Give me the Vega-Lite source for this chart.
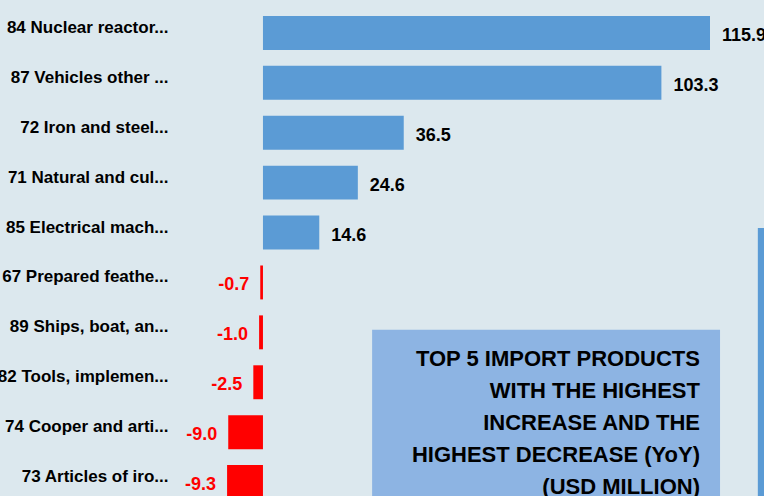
{
  "$schema": "https://vega.github.io/schema/vega-lite/v6.json",
  "width": 594,
  "height": 515,
  "autosize": {"type": "none"},
  "padding": {"left": 170, "top": 0, "right": 0, "bottom": 0},
  "background": "#dce8ee",
  "config": {"view": {"stroke": null}},
  "datasets": {
    "bars": [
      {"product": "84 Nuclear reactor...", "value": 115.9, "label": "115.9", "dir": "up"},
      {"product": "87 Vehicles  other ...", "value": 103.3, "label": "103.3", "dir": "up"},
      {"product": "72 Iron and steel...", "value": 36.5, "label": "36.5", "dir": "up"},
      {"product": "71 Natural and cul...", "value": 24.6, "label": "24.6", "dir": "up"},
      {"product": "85 Electrical mach...", "value": 14.6, "label": "14.6", "dir": "up"},
      {"product": "67 Prepared feathe...", "value": -0.7, "label": "-0.7", "dir": "down"},
      {"product": "89 Ships, boat, an...", "value": -1.0, "label": "-1.0", "dir": "down"},
      {"product": "82 Tools, implemen...", "value": -2.5, "label": "-2.5", "dir": "down"},
      {"product": "74 Cooper and arti...", "value": -9.0, "label": "-9.0", "dir": "down"},
      {"product": "73 Articles of iro...", "value": -9.3, "label": "-9.3", "dir": "down"}
    ],
    "panels": [
      {"name": "box", "x1": 28.3, "x2": 118.5, "y1": 6.61, "y2": 10.4, "fill": "box"},
      {"name": "side", "x1": 128.3, "x2": 140, "y1": 4.57, "y2": 10.4, "fill": "side"}
    ],
    "title": [
      {"text": "TOP 5 IMPORT PRODUCTS\nWITH THE HIGHEST\nINCREASE AND THE\nHIGHEST DECREASE (YoY)\n(USD MILLION)", "x": 113.3, "y": 7.33}
    ]
  },
  "layer": [
    {
      "data": {"name": "bars"},
      "encoding": {
        "y": {
          "field": "product", "type": "nominal", "sort": null,
          "scale": {"paddingInner": 0.32, "paddingOuter": 0.32},
          "axis": {"title": null, "ticks": false, "domain": false, "labelPadding": 2, "labelOffset": -5,
                   "labelFont": "Liberation Sans", "labelFontWeight": "bold", "labelFontSize": 17,
                   "labelColor": "#000000", "labelLimit": 0}
        },
        "x": {
          "field": "value", "type": "quantitative",
          "scale": {"domain": [-24.1, 129.9], "nice": false, "zero": false},
          "axis": null
        }
      },
      "layer": [
        {
          "mark": {"type": "bar"},
          "encoding": {
            "color": {
              "field": "dir", "type": "nominal",
              "scale": {"domain": ["up", "down"], "range": ["#5b9bd5", "#ff0000"]},
              "legend": null
            }
          }
        },
        {
          "transform": [{"filter": "datum.value > 0"}],
          "mark": {"type": "text", "align": "left", "baseline": "middle", "dx": 12, "dy": 3,
                   "font": "Liberation Sans", "fontWeight": "bold", "fontSize": 18, "color": "#000000"},
          "encoding": {"text": {"field": "label"}}
        },
        {
          "transform": [{"filter": "datum.value < 0"}],
          "mark": {"type": "text", "align": "right", "baseline": "middle", "dx": -11, "dy": 3,
                   "font": "Liberation Sans", "fontWeight": "bold", "fontSize": 18, "color": "#ff0000"},
          "encoding": {"text": {"field": "label"}}
        }
      ]
    },
    {
      "data": {"name": "panels"},
      "mark": {"type": "rect", "clip": false},
      "encoding": {
        "x": {"field": "x1", "type": "quantitative"},
        "x2": {"field": "x2"},
        "y": {"field": "y1", "type": "quantitative", "scale": {"domain": [0, 10.32], "reverse": true, "nice": false, "zero": false}, "axis": null},
        "y2": {"field": "y2"},
        "color": {"field": "fill", "type": "nominal", "scale": {"domain": ["box", "side"], "range": ["#8db4e3", "#5b9bd5"]}, "legend": null}
      }
    },
    {
      "data": {"name": "title"},
      "mark": {"type": "text", "align": "right", "baseline": "alphabetic", "lineBreak": "\n", "lineHeight": 32,
               "font": "Liberation Sans", "fontWeight": "bold", "fontSize": 22, "color": "#000000"},
      "encoding": {
        "x": {"field": "x", "type": "quantitative"},
        "y": {"field": "y", "type": "quantitative", "scale": {"domain": [0, 10.32], "reverse": true, "nice": false, "zero": false}, "axis": null},
        "text": {"field": "text"}
      }
    }
  ],
  "resolve": {"scale": {"y": "independent", "color": "independent"}}
}
